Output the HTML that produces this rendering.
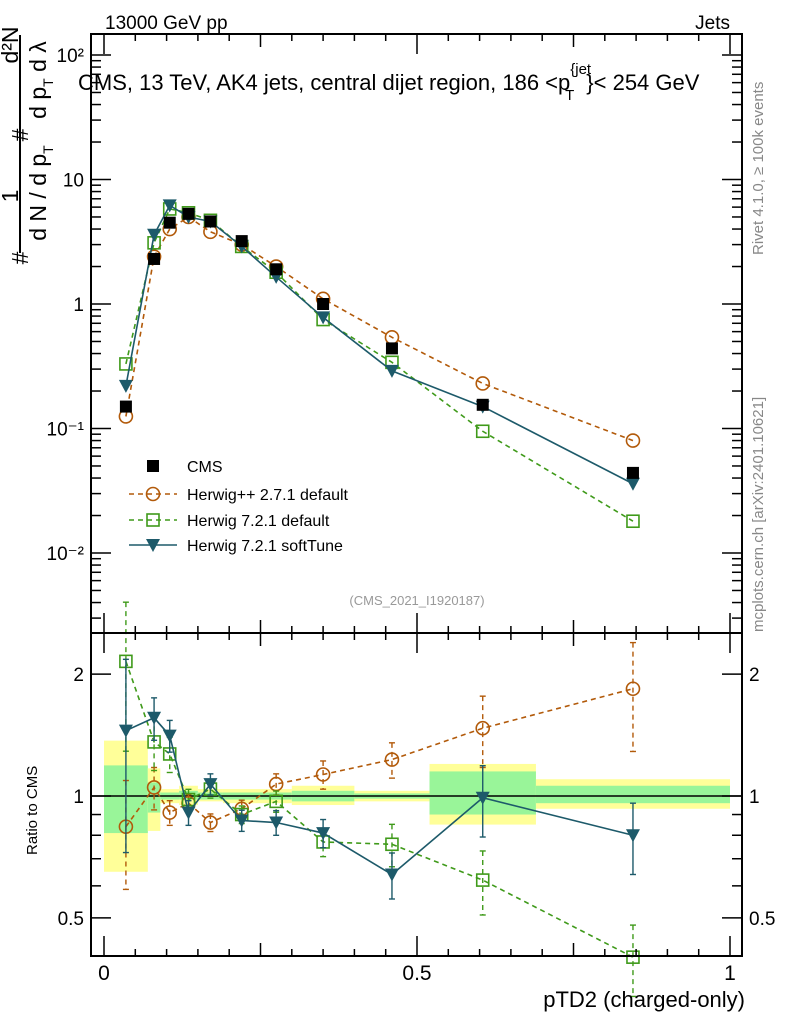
<!DOCTYPE html>
<html><head><meta charset="utf-8">
<style>
html,body{margin:0;padding:0;background:#fff;}
svg{display:block;font-family:"Liberation Sans",sans-serif;}
</style></head>
<body>
<svg id="c" width="786" height="1024" viewBox="0 0 786 1024" xmlns="http://www.w3.org/2000/svg">
<g id="bands"></g>
<g id="marks"></g>
<g id="axes"></g>
<text x="105" y="29" font-size="19">13000 GeV pp</text>
<text x="730" y="29" font-size="19" text-anchor="end">Jets</text>
<text x="78" y="90" font-size="22">CMS, 13 TeV, AK4 jets, central dijet region, 186 &lt;p<tspan font-size="15" dy="-16">{jet</tspan><tspan font-size="15" dx="-26" dy="26">T</tspan><tspan dy="-10" dx="12">}&lt; 254 GeV</tspan></text>
<text transform="translate(763,255) rotate(-90)" font-size="15" fill="#888">Rivet 4.1.0, ≥ 100k events</text>
<text transform="translate(763,632) rotate(-90)" font-size="15" fill="#888">mcplots.cern.ch [arXiv:2401.10621]</text>
<text x="417" y="605" font-size="13" fill="#999" text-anchor="middle">(CMS_2021_I1920187)</text>
<g font-size="23">
<line x1="20" y1="35" x2="20" y2="253" stroke="#000" stroke-width="2"/>
<text transform="translate(18,45) rotate(-90)" text-anchor="middle">d²N</text>
<text transform="translate(46,80) rotate(-90)" text-anchor="middle">d p<tspan font-size="14" dy="7">T</tspan><tspan dy="-7"> d λ</tspan></text>
<text transform="translate(28,135) rotate(-90)" text-anchor="middle">#</text>
<text transform="translate(46,193) rotate(-90)" text-anchor="middle">d N / d p<tspan font-size="14" dy="7">T</tspan><tspan dy="-7"> </tspan></text>
<text transform="translate(18,196) rotate(-90)" text-anchor="middle">1</text>
<text transform="translate(28,258) rotate(-90)" text-anchor="middle">#</text>
</g>
<text transform="translate(37,855) rotate(-90)" font-size="15">Ratio to CMS</text>
<text x="745" y="1007" font-size="22" text-anchor="end">pTD2 (charged-only)</text>
<g id="legend"></g>
</svg>
<script>
const xPts = [0.035,0.08,0.105,0.135,0.17,0.22,0.275,0.35,0.46,0.605,0.845];
const binEdges = [0,0.07,0.09,0.12,0.15,0.19,0.25,0.30,0.40,0.52,0.69,1.0];
const cmsVals = [0.15,2.3,4.5,5.3,4.6,3.2,1.9,1.0,0.44,0.155,0.044];
const hppVals = [0.125,2.4,4.0,5.0,3.8,3.0,2.0,1.1,0.54,0.23,0.08];
const h72Vals = [0.33,3.1,5.8,5.4,4.7,2.9,1.8,0.75,0.34,0.095,0.018];
const softVals = [0.22,3.6,6.2,5.0,4.6,2.9,1.65,0.78,0.29,0.15,0.036];
const hppRatio = [0.84,1.05,0.91,0.96,0.86,0.93,1.07,1.13,1.23,1.47,1.84];
const h72Ratio = [2.15,1.36,1.27,0.98,1.04,0.90,0.97,0.77,0.76,0.62,0.40];
const softRatio = [1.45,1.56,1.41,0.91,1.07,0.87,0.86,0.81,0.64,0.99,0.80];
const hppRatioErr = [0.3,0.12,0.07,0.05,0.05,0.05,0.06,0.08,0.1,0.2,0.3];
const h72RatioErr = [0.4,0.15,0.1,0.06,0.05,0.05,0.06,0.08,0.12,0.18,0.2];
const softRatioErr = [0.5,0.12,0.09,0.07,0.06,0.06,0.07,0.08,0.13,0.2,0.2];
const yellowLo = [0.65,0.82,0.96,0.95,0.97,0.96,0.96,0.95,0.97,0.85,0.93];
const yellowHi = [1.37,1.17,1.04,1.06,1.04,1.04,1.04,1.06,1.03,1.2,1.1];
const greenLo = [0.81,0.91,0.98,0.98,0.98,0.98,0.98,0.97,0.985,0.9,0.96];
const greenHi = [1.19,1.08,1.02,1.03,1.02,1.02,1.02,1.03,1.015,1.15,1.06];
const mainTicks = [[100,"10²"],[10,"10"],[1,"1"],[0.1,"10⁻¹"],[0.01,"10⁻²"]];
const ratioTicks = [[2,"2"],[1,"1"],[0.5,"0.5"]];
const xTicks = [[0,"0"],[0.5,"0.5"],[1,"1"]];

const NS="http://www.w3.org/2000/svg";
const L=91,R=742,T=34,MB=633,RB=956;
const X=v=>104+626*v;
const Y=v=>304-124.5*Math.log10(v);
const YR=v=>796-405*Math.log10(v);
function mk(p,tag,a){const e=document.createElementNS(NS,tag);for(const k in a)e.setAttribute(k,a[k]);p.appendChild(e);return e;}
const bands=document.getElementById('bands'),marks=document.getElementById('marks'),axes=document.getElementById('axes'),leg=document.getElementById('legend');

for(let i=0;i<binEdges.length-1;i++){
  const x0=X(binEdges[i]),x1=X(binEdges[i+1]);
  const y=mk(bands,'rect',{x:x0,y:YR(yellowHi[i]),width:x1-x0,height:YR(yellowLo[i])-YR(yellowHi[i]),fill:'#ffff99'});
  
  
  const g=mk(bands,'rect',{x:x0,y:YR(greenHi[i]),width:x1-x0,height:YR(greenLo[i])-YR(greenHi[i]),fill:'#99f599'});
  
  
}
const one=mk(bands,'line',{x1:L,x2:R,y1:YR(1),y2:YR(1),stroke:'#000','stroke-width':1.5});



function marker(p,type,x,y,col){
  let e;
  if(type==='sq') e=mk(p,'rect',{x:x-6,y:y-6,width:12,height:12,fill:'#000'});
  else if(type==='circ') e=mk(p,'circle',{cx:x,cy:y,r:6.5,fill:'none',stroke:col,'stroke-width':1.6});
  else if(type==='osq') e=mk(p,'rect',{x:x-6,y:y-6,width:12,height:12,fill:'none',stroke:col,'stroke-width':1.6});
  else e=mk(p,'path',{d:`M${x-7},${y-6}L${x+7},${y-6}L${x},${y+7}Z`,fill:col});
  return e;
}
function series(vals,yf,type,col,dash,name,errs){
  const g=mk(marks,'g',{});
  
  
  if(col){
    const pts=vals.map((v,i)=>X(xPts[i])+','+yf(v)).join(' ');
    mk(g,'polyline',{points:pts,fill:'none',stroke:col,'stroke-width':1.6,'stroke-dasharray':dash||'none'});
  }
  vals.forEach((v,i)=>{
    if(errs){
      const x=X(xPts[i]),y1=yf(v*(1+errs[i])),y2=yf(Math.max(v*(1-errs[i]),0.05));
      mk(g,'line',{x1:x,x2:x,y1:y1,y2:y2,stroke:col,'stroke-width':1.4,'stroke-dasharray':dash||'none'});
      mk(g,'line',{x1:x-3,x2:x+3,y1:y1,y2:y1,stroke:col,'stroke-width':1.4});
      mk(g,'line',{x1:x-3,x2:x+3,y1:y2,y2:y2,stroke:col,'stroke-width':1.4});
    }
    const m=marker(g,type,X(xPts[i]),yf(v),col);
    
    
  });
}
const OR='#b25a0a',GR='#3f9a1a',TE='#1d5a6a';
series(hppVals,Y,'circ',OR,'5,4','herwigpp-main');
series(h72Vals,Y,'osq',GR,'5,4','herwig72-main');
series(softVals,Y,'tri',TE,null,'softtune-main');
series(cmsVals,Y,'sq',null,null,'cms-data-main');
series(hppRatio,YR,'circ',OR,'5,4','herwigpp-ratio',hppRatioErr);
series(h72Ratio,YR,'osq',GR,'5,4','herwig72-ratio',h72RatioErr);
series(softRatio,YR,'tri',TE,null,'softtune-ratio',softRatioErr);

[[T,MB],[MB,RB]].forEach(([a,b])=>{
  const f=mk(axes,'rect',{x:L,y:a,width:R-L,height:b-a,fill:'none',stroke:'#000','stroke-width':2});
  
  
});
for(let d=-3;d<=2;d++)for(let m=1;m<10;m++){
  const v=m*Math.pow(10,d),y=Y(v);if(y<T||y>MB)continue;
  const len=m===1?20:10;
  mk(axes,'line',{x1:L,x2:L+len,y1:y,y2:y,stroke:'#000','stroke-width':1.5});
  mk(axes,'line',{x1:R,x2:R-len,y1:y,y2:y,stroke:'#000','stroke-width':1.5});
}
mainTicks.forEach(([v,t])=>{const e=mk(axes,'text',{x:84,y:Y(v)+7,'font-size':19,'text-anchor':'end'});e.textContent=t;
  });
for(let d=-1;d<=0;d++)for(let m=1;m<10;m++){
  const v=m*Math.pow(10,d),y=YR(v);if(y>RB||y<MB)continue;
  const len=(v===1||v===2||v===0.5)?20:10;
  mk(axes,'line',{x1:L,x2:L+len,y1:y,y2:y,stroke:'#000','stroke-width':1.5});
  mk(axes,'line',{x1:R,x2:R-len,y1:y,y2:y,stroke:'#000','stroke-width':1.5});
}
ratioTicks.forEach(([v,t])=>{
  const e=mk(axes,'text',{x:84,y:YR(v)+7,'font-size':19,'text-anchor':'end'});e.textContent=t;
  
  const f=mk(axes,'text',{x:749,y:YR(v)+7,'font-size':19});f.textContent=t;
  
});
for(let i=0;i<=20;i++){
  const v=i*0.05,x=X(v),len=i%5===0?(i%10===0?20:13):7;
  [[T,1],[MB,1],[MB,-1],[RB,-1]].forEach(([y0,s])=>mk(axes,'line',{x1:x,x2:x,y1:y0,y2:y0+s*len,stroke:'#000','stroke-width':1.5}));
}
xTicks.forEach(([v,t])=>{const e=mk(axes,'text',{x:X(v),y:980,'font-size':21,'text-anchor':'middle'});e.textContent=t;
  });

const legItems=[['CMS','sq',null,null],['Herwig++ 2.7.1 default','circ',OR,'5,4'],['Herwig 7.2.1 default','osq',GR,'5,4'],['Herwig 7.2.1 softTune','tri',TE,null]];
const legY=[466,494,520,545];
legItems.forEach((it,i)=>{
  const g=mk(leg,'g',{});
  
  
  if(it[2])mk(g,'line',{x1:129,x2:177,y1:legY[i],y2:legY[i],stroke:it[2],'stroke-width':1.6,'stroke-dasharray':it[3]||'none'});
  marker(g,it[1],153,legY[i],it[2]);
  const t=mk(g,'text',{x:187,y:legY[i]+6,'font-size':16});t.textContent=it[0];
});
</script>
</body></html>
